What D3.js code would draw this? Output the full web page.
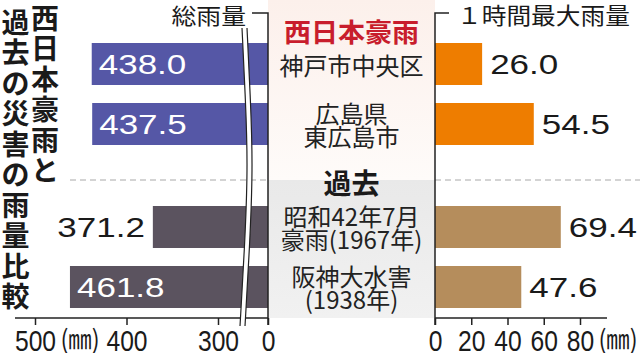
<!DOCTYPE html>
<html>
<head>
<meta charset="utf-8">
<script src="https://cdn.jsdelivr.net/npm/d3@7"></script>
<style>
    body { margin: 0; background: #fff; }
    svg { display: block; }
</style>
</head>
<body>
<div id="wrapper"></div>
<script>
// data
const titleCols = ['西日本豪雨と', '過去の災害の雨量比較']
const groups = ['西日本豪雨', '過去']
const places = ['神戸市中央区', '広島県\n東広島市', '昭和42年7月\n豪雨(1967年)', '阪神大水害\n(1938年)']
const placeGroup = ['西日本豪雨', '西日本豪雨', '過去', '過去']
const totalRain = [438.0, 437.5, 371.2, 461.8]
const hourlyMax = [26.0, 54.5, 69.4, 47.6]
const totalTicks = [500, 400, 300, 0]
const hourlyTicks = [0, 20, 40, 60, 80]
const totalTitle = '総雨量'
const hourlyTitle = '１時間最大雨量'
const unit = '(㎜)'

const dimensions = {
    width: 640,
    height: 353,
    leftZero: 268,
    rightZero: 435,
    axisY: 318,
    hookY: 13,
    splitY: 180,
}
const groupRange = { '西日本豪雨': [43, 145], '過去': [206, 308] }
const leftColor = { '西日本豪雨': '#5557a6', '過去': '#5b535f' }
const rightColor = { '西日本豪雨': '#ee7d00', '過去': '#b58d5c' }
const jp = '"Noto Sans CJK JP", "Noto Sans CJK SC", sans-serif'
const num = '"Liberation Sans", Arial, sans-serif'

const rows = places.map((p, i) => ({
    i: i,
    lines: p.split('\n'),
    group: placeGroup[i],
    total: totalRain[i],
    hourly: hourlyMax[i],
}))

const svg = d3.select("#wrapper")
    .append("svg")
    .attr("width", dimensions.width)
    .attr("height", dimensions.height)

const defs = svg.append("defs")
const pink = defs.append("linearGradient").attr("id", "pink").attr("x1", 0).attr("y1", 0).attr("x2", 0).attr("y2", 1)
pink.append("stop").attr("offset", "0%").attr("stop-color", "#fcf0eb")
pink.append("stop").attr("offset", "100%").attr("stop-color", "#fefbf9")
const grey = defs.append("linearGradient").attr("id", "grey").attr("x1", 0).attr("y1", 0).attr("x2", 0).attr("y2", 1)
grey.append("stop").attr("offset", "0%").attr("stop-color", "#e9e9e9")
grey.append("stop").attr("offset", "100%").attr("stop-color", "#f1f1f1")

// scales
const totalScale = d3.scaleLinear()
    .domain([0, 300, 500])
    .range([dimensions.leftZero, 218, 35])
const hourlyScale = d3.scaleLinear()
    .domain([0, 80])
    .range([dimensions.rightZero, 580])

const rowScales = {}
groups.forEach(g => {
    rowScales[g] = d3.scaleBand()
        .domain(rows.filter(d => d.group == g).map(d => d.i))
        .range(groupRange[g])
        .paddingInner(0.3)
})
const yTop = d => rowScales[d.group](d.i)
const yMid = d => yTop(d) + rowScales[d.group].bandwidth() / 2
const bandH = d => rowScales[d.group].bandwidth()

// centre panel backgrounds
svg.append("rect")
    .attr("x", dimensions.leftZero).attr("y", 0)
    .attr("width", dimensions.rightZero - dimensions.leftZero)
    .attr("height", dimensions.splitY)
    .attr("fill", "url(#pink)")
svg.append("rect")
    .attr("x", dimensions.leftZero).attr("y", dimensions.splitY)
    .attr("width", dimensions.rightZero - dimensions.leftZero)
    .attr("height", dimensions.axisY - dimensions.splitY)
    .attr("fill", "url(#grey)")

// dashed separator
svg.append("g").selectAll("line")
    .data([[70, dimensions.leftZero], [dimensions.rightZero, 640]])
    .enter()
    .append("line")
    .attr("x1", d => d[0]).attr("x2", d => d[1])
    .attr("y1", dimensions.splitY).attr("y2", dimensions.splitY)
    .attr("stroke", "#a8a8a8")
    .attr("stroke-width", 1)
    .attr("stroke-dasharray", "6,4")

// title, vertical
titleCols.forEach((col, c) => {
    const x = c == 0 ? 45 : 15.5
    const y0 = c == 0 ? 16.5 : 20.5
    svg.append("g").selectAll("text")
        .data(Array.from(col))
        .enter()
        .append("text")
        .attr("x", x)
        .attr("y", (d, i) => y0 + i * 30.5)
        .attr("text-anchor", "middle")
        .attr("dominant-baseline", "central")
        .attr("font-family", jp)
        .attr("font-weight", 700)
        .attr("font-size", 28)
        .attr("fill", "#1a1a1a")
        .text(d => d)
})

// bars
svg.append("g")
    .selectAll("rect")
    .data(rows)
    .enter()
    .append("rect")
    .attr("x", d => totalScale(d.total))
    .attr("y", yTop)
    .attr("width", d => dimensions.leftZero - totalScale(d.total))
    .attr("height", bandH)
    .attr("fill", d => leftColor[d.group])

svg.append("g")
    .selectAll("rect")
    .data(rows)
    .enter()
    .append("rect")
    .attr("x", dimensions.rightZero)
    .attr("y", yTop)
    .attr("width", d => hourlyScale(d.hourly) - dimensions.rightZero)
    .attr("height", bandH)
    .attr("fill", d => rightColor[d.group])

// value labels
const valueLabel = (x, y, txt, anchor, fill) => {
    svg.append("g")
        .attr("transform", `translate(${x},${y}) scale(1.25,1)`)
        .append("text")
        .attr("text-anchor", anchor)
        .attr("font-family", num)
        .attr("font-size", 28)
        .attr("fill", fill)
        .text(txt)
}
rows.forEach(d => {
    const inside = d.total >= 400
    const x = inside ? totalScale(d.total) + 7 : totalScale(d.total) - 8
    valueLabel(x, yMid(d) + 10, d3.format(".1f")(d.total), inside ? "start" : "end", inside ? "#fff" : "#1a1a1a")
    valueLabel(hourlyScale(d.hourly) + 8, yMid(d) + 10, d3.format(".1f")(d.hourly), "start", "#1a1a1a")
})

// centre labels
const cx = (dimensions.leftZero + dimensions.rightZero) / 2
rows.forEach(d => {
    const n = d.lines.length
    svg.append("g").selectAll("text")
        .data(d.lines)
        .enter()
        .append("text")
        .attr("x", cx)
        .attr("y", (l, i) => yMid(d) + (i - (n - 1) / 2) * 23.5)
        .attr("text-anchor", "middle")
        .attr("dominant-baseline", "central")
        .attr("font-family", jp)
        .attr("font-size", 24)
        .attr("fill", "#222")
        .text(l => l)
})

svg.append("g")
    .attr("transform", `translate(${cx},31) scale(1.04,1)`)
    .append("text")
    .attr("text-anchor", "middle")
    .attr("dominant-baseline", "central")
    .attr("font-family", jp)
    .attr("font-weight", 700)
    .attr("font-size", 26)
    .attr("fill", "#c81d2c")
    .text(groups[0])

svg.append("text")
    .attr("x", cx)
    .attr("y", 181.5)
    .attr("text-anchor", "middle")
    .attr("dominant-baseline", "central")
    .attr("font-family", jp)
    .attr("font-weight", 700)
    .attr("font-size", 28)
    .attr("fill", "#1a1a1a")
    .text(groups[1])

// axes
const styleAxis = g => {
    g.select(".domain").remove()
    g.selectAll(".tick line").attr("stroke", "#222").attr("stroke-width", 1.5)
    g.selectAll(".tick text")
        .attr("y", 33)
        .attr("dy", null)
        .attr("transform", "scale(0.85,1)")
        .attr("font-family", num)
        .attr("font-size", 29)
        .attr("fill", "#1a1a1a")
}

svg.append("g")
    .attr("transform", `translate(0,${dimensions.axisY})`)
    .call(d3.axisBottom(totalScale).tickValues(totalTicks).tickSize(7).tickFormat(d3.format("d")))
    .call(styleAxis)

svg.append("g")
    .attr("transform", `translate(0,${dimensions.axisY})`)
    .call(d3.axisBottom(hourlyScale).tickValues(hourlyTicks).tickSize(7).tickFormat(d3.format("d")))
    .call(styleAxis)

const axisLines = svg.append("g")
    .attr("fill", "none")
    .attr("stroke", "#222")
    .attr("stroke-width", 1.5)
axisLines.append("line")
    .attr("x1", 15).attr("x2", dimensions.leftZero)
    .attr("y1", dimensions.axisY).attr("y2", dimensions.axisY)
axisLines.append("line")
    .attr("x1", dimensions.rightZero).attr("x2", 607)
    .attr("y1", dimensions.axisY).attr("y2", dimensions.axisY)
axisLines.append("path")
    .attr("d", `M252,${dimensions.hookY}H${dimensions.leftZero}V${dimensions.axisY + 7}`)
axisLines.append("path")
    .attr("d", `M449,${dimensions.hookY}H${dimensions.rightZero}V${dimensions.axisY + 7}`)

// units
svg.append("g")
    .selectAll("text")
    .data([80, 618])
    .enter()
    .append("g")
    .attr("transform", d => `translate(${d},349) scale(0.9,1)`)
    .append("text")
    .attr("text-anchor", "middle")
    .attr("font-family", jp)
    .attr("font-size", 26)
    .attr("fill", "#1a1a1a")
    .text(unit)

// axis titles
svg.append("g")
    .attr("transform", `translate(246,15) scale(1.13,1)`)
    .append("text")
    .attr("text-anchor", "end")
    .attr("dominant-baseline", "central")
    .attr("font-family", jp)
    .attr("font-size", 22)
    .attr("fill", "#1a1a1a")
    .text(totalTitle)

svg.append("g")
    .attr("transform", `translate(457,14) scale(1.075,1)`)
    .append("text")
    .attr("text-anchor", "start")
    .attr("dominant-baseline", "central")
    .attr("font-family", jp)
    .attr("font-size", 23)
    .attr("fill", "#1a1a1a")
    .text(hourlyTitle)

// scale break
const breakLine = d3.line().curve(d3.curveBasis)
const breakPts = [[244.5, 28], [248, 100], [250.5, 167], [247, 250], [242.5, 326]]
svg.append("path")
    .attr("d", breakLine(breakPts))
    .attr("fill", "none")
    .attr("stroke", "#fff")
    .attr("stroke-width", 5)
;[-2.5, 2.5].forEach(o => {
    svg.append("path")
        .attr("d", breakLine(breakPts.map(p => [p[0] + o, p[1]])))
        .attr("fill", "none")
        .attr("stroke", "#222")
        .attr("stroke-width", 1.2)
})
</script>
</body>
</html>
